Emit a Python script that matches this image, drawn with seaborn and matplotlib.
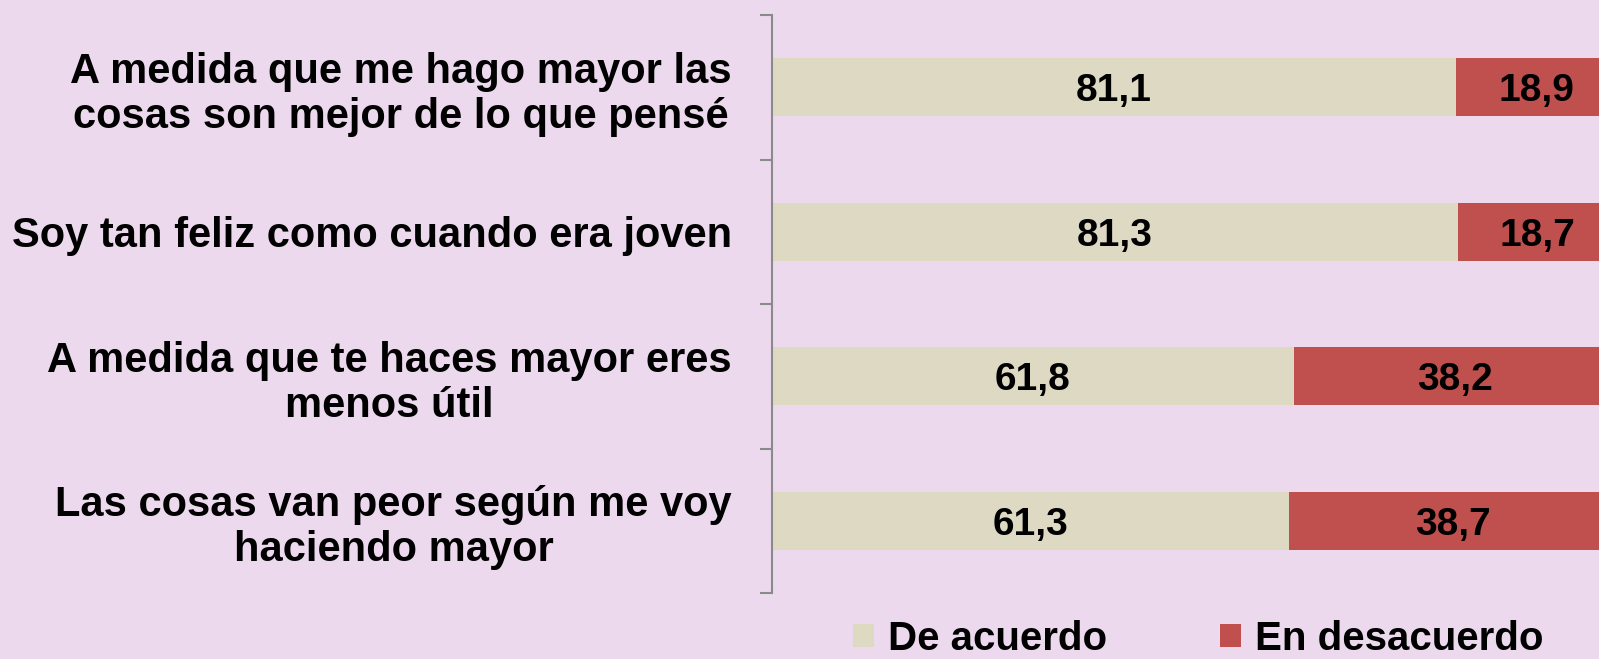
import numpy as np
import pandas as pd
import seaborn as sns
import matplotlib.pyplot as plt
from matplotlib.patches import Patch

# data
enunciados = [
    "A medida que me hago mayor las\ncosas son mejor de lo que pensé",
    "Soy tan feliz como cuando era joven",
    "A medida que te haces mayor eres\nmenos útil",
    "Las cosas van peor según me voy\nhaciendo mayor",
]
de_acuerdo = [81.1, 81.3, 61.8, 61.3]
en_desacuerdo = [18.9, 18.7, 38.2, 38.7]
leyenda = ["De acuerdo", "En desacuerdo"]

BG = "#EDD9EE"
BEIGE = "#DDD9C3"
RED = "#C0504D"
GRAY = "#8A8A8A"

def fmt(v):
    return f"{v:.1f}".replace(".", ",")

df = pd.DataFrame({"enunciado": enunciados,
                   "acuerdo": de_acuerdo,
                   "desacuerdo": en_desacuerdo})
df["total"] = df["acuerdo"] + df["desacuerdo"]

sns.set_theme(style="white")
plt.rcParams['font.family'] = ['Liberation Sans', 'DejaVu Sans']
plt.rcParams['text.color'] = 'black'

fig = plt.figure(figsize=(15.99, 6.59), dpi=100, facecolor=BG)
ax = fig.add_axes([772 / 1599, 1 - 593 / 659, 844 / 1599, 578 / 659])
ax.set_facecolor(BG)

# stacked: full length in red, then the "de acuerdo" part on top
sns.barplot(data=df, x="total", y="enunciado", color=RED, width=0.4,
            saturation=1, errorbar=None, linewidth=0, ax=ax)
sns.barplot(data=df, x="acuerdo", y="enunciado", color=BEIGE, width=0.4,
            saturation=1, errorbar=None, linewidth=0, ax=ax)

for i, (a, d) in enumerate(zip(de_acuerdo, en_desacuerdo)):
    ax.text(a / 2, i, fmt(a), ha="center", va="center_baseline",
            fontsize=28, fontweight="bold", color="black")
    ax.text(a + d / 2, i, fmt(d), ha="center", va="center_baseline",
            fontsize=28, fontweight="bold", color="black")

ax.set_xlim(0, 100)
ax.set_ylim(len(enunciados) - 0.5, -0.5)
ax.set_xlabel("")
ax.set_ylabel("")
ax.tick_params(axis="x", bottom=False, labelbottom=False)
ax.set_yticks(np.arange(-0.5, len(enunciados), 1), minor=True)
ax.tick_params(axis="y", which="major", left=False, length=0, pad=29,
               labelsize=30, labelcolor="black")
ax.tick_params(axis="y", which="minor", left=True, length=8.6, width=1.5,
               color=GRAY, direction="out")
for lbl in ax.get_yticklabels():
    lbl.set_fontweight("bold")
    lbl.set_multialignment("center")
    lbl.set_linespacing(1.16)

for s in ["top", "right", "bottom"]:
    ax.spines[s].set_visible(False)
ax.spines["left"].set_color(GRAY)
ax.spines["left"].set_linewidth(1.5)
ax.grid(False)

handles = [Patch(facecolor=BEIGE, edgecolor="none", label=leyenda[0]),
           Patch(facecolor=RED, edgecolor="none", label=leyenda[1])]
fig.legend(handles=handles, loc="center left",
           bbox_to_anchor=(853 / 1599, 1 - 639 / 659), ncol=2,
           frameon=False, prop={"weight": "bold", "size": 29},
           labelcolor="black",
           handlelength=0.52, handleheight=0.52, handletextpad=0.35,
           columnspacing=2.8, borderpad=0, borderaxespad=0)

fig.savefig("out.png", dpi=100, facecolor=BG)
